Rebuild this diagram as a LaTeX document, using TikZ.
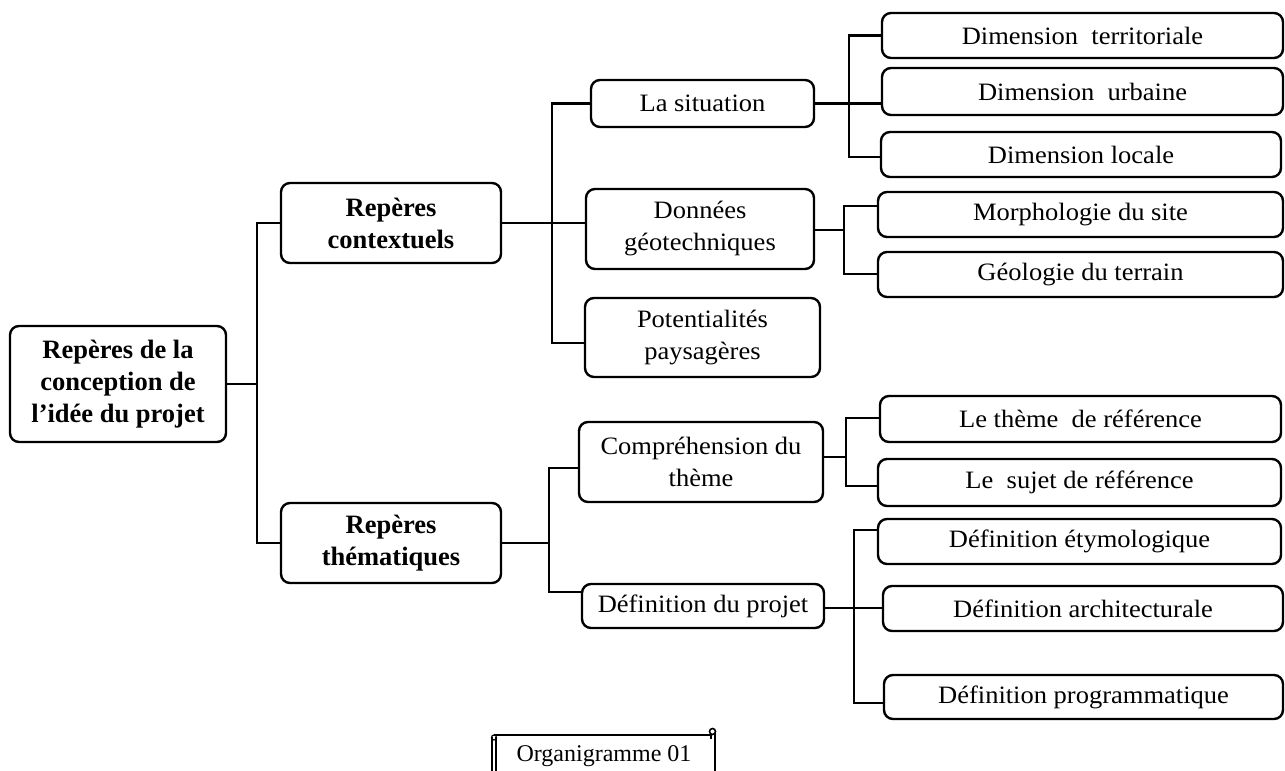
\documentclass[tikz,border=0pt]{standalone}
\usepackage{fontspec}
\setmainfont{Liberation Serif}[FakeStretch=1.06]
\newfontfamily\plainserif{Liberation Serif}
\usetikzlibrary{calc}
\begin{document}
\begin{tikzpicture}[x=1pt,y=-1pt,
  box/.style={draw, line width=2.4pt, rounded corners=9pt, align=center, inner sep=0pt,
    font=\fontsize{25}{32}\selectfont},
  bbox/.style={box, font=\plainserif\fontsize{26.5}{32}\selectfont\bfseries},
  conn/.style={line width=2.2pt, line join=miter}]
\useasboundingbox (0,0) rectangle (1285,771);

% level 0 and 1
\node[bbox, minimum width=216pt, minimum height=116pt] (root) at (118,384) {Repères de la\\conception de\\l’idée du projet};
\node[bbox, minimum width=220pt, minimum height=80pt] (RC) at (391,223) {Repères\\contextuels};
\node[bbox, minimum width=220pt, minimum height=80pt] (RT) at (391,543) {Repères\\thématiques};

% level 2
\node[box, minimum width=223pt, minimum height=47pt] (LaSit) at (702.5,103.5) {La situation};
\node[box, minimum width=228pt, minimum height=80pt] (Donnees) at (700,229) {Données\\géotechniques};
\node[box, minimum width=235pt, minimum height=79pt] (Potent) at (702.5,337.5) {Potentialités\\paysagères};
\node[box, minimum width=244pt, minimum height=80pt] (Compr) at (701,462) {Compréhension du\\thème};
\node[box, minimum width=242pt, minimum height=44pt] (DefP) at (703,606) {Définition du projet};

% level 3
\node[box, minimum width=401pt, minimum height=45pt] (DimT) at (1082.5,35.5) {Dimension\ \ territoriale};
\node[box, minimum width=401pt, minimum height=47pt] (DimU) at (1082.5,91.5) {Dimension\ \ urbaine};
\node[box, minimum width=400pt, minimum height=45pt] (DimL) at (1081,154.5) {Dimension locale};
\node[box, minimum width=405pt, minimum height=45pt] (Morph) at (1080.5,214.5) {Morphologie du site};
\node[box, minimum width=405pt, minimum height=45pt] (Geol) at (1080.5,274.5) {Géologie du terrain};
\node[box, minimum width=401pt, minimum height=46pt] (Theme) at (1080.5,419) {Le thème\ \ de référence};
\node[box, minimum width=403pt, minimum height=47pt] (Sujet) at (1079.5,482.5) {Le\ \ sujet de référence};
\node[box, minimum width=403pt, minimum height=45pt] (Etym) at (1079.5,541.5) {Définition étymologique};
\node[box, minimum width=400pt, minimum height=45pt] (Archi) at (1083,608.5) {Définition architecturale};
\node[box, minimum width=399pt, minimum height=44pt] (Prog) at (1083.5,697) {Définition programmatique};

% trunk x positions
\coordinate (t1) at (257,0);
\coordinate (t2) at (552,0);
\coordinate (t3) at (849,0);
\coordinate (t4) at (844,0);
\coordinate (t5) at (549,0);
\coordinate (t6) at (846,0);
\coordinate (t7) at (854,0);

% root connectors
\draw[conn] (root.east) -- (root.east -| t1);
\draw[conn] (RC.west) -- (RC.west -| t1) -- (RT.west -| t1) -- (RT.west);

% contextuels
\draw[conn] (RC.east) -- (RC.east -| Donnees.west);
\draw[conn] (LaSit.west) -- (LaSit.west -| t2) -- (t2 |- 0,343) -- (Potent.west |- 0,343);

% la situation
\draw[conn] (LaSit.east) -- (LaSit.east -| DimU.west);
\draw[conn] (DimT.west) -- (DimT.west -| t3) -- (t3 |- 0,157) -- (DimL.west |- 0,157);

% donnees
\draw[conn] (Donnees.east |- 0,230) -- (t4 |- 0,230);
\draw[conn] (Morph.west |- 0,206) -- (t4 |- 0,206) -- (t4 |- 0,274) -- (Geol.west |- 0,274);

% thematiques
\draw[conn] (RT.east) -- (RT.east -| t5);
\draw[conn] (Compr.west |- 0,468) -- (t5 |- 0,468) -- (t5 |- 0,592) -- (DefP.west |- 0,592);

% comprehension
\draw[conn] (Compr.east |- 0,457) -- (t6 |- 0,457);
\draw[conn] (Theme.west |- 0,418) -- (t6 |- 0,418) -- (t6 |- 0,486) -- (Sujet.west |- 0,486);

% definition du projet
\draw[conn] (DefP.east |- 0,608) -- (Archi.west |- 0,608);
\draw[conn] (Etym.west |- 0,530) -- (t7 |- 0,530) -- (t7 |- 0,703) -- (Prog.west |- 0,703);

% scroll caption
\node[font=\plainserif\fontsize{24}{28}\selectfont, inner sep=0pt] (cap) at (604,756) {Organigramme 01};
\draw[line width=1.3pt] (494,735) -- (712,735);
\draw[line width=1.3pt] (492,737) -- (492,771);
\draw[line width=1.3pt] (496,737) -- (496,771);
\draw[line width=1.3pt] (715,733) -- (715,771);
\draw[line width=1.1pt] (711,735) -- (711,739);
\draw[line width=1.2pt] (494,737.5) circle (2.5);
\draw[line width=1.6pt] (712.5,731.5) circle (3);
\end{tikzpicture}
\end{document}
